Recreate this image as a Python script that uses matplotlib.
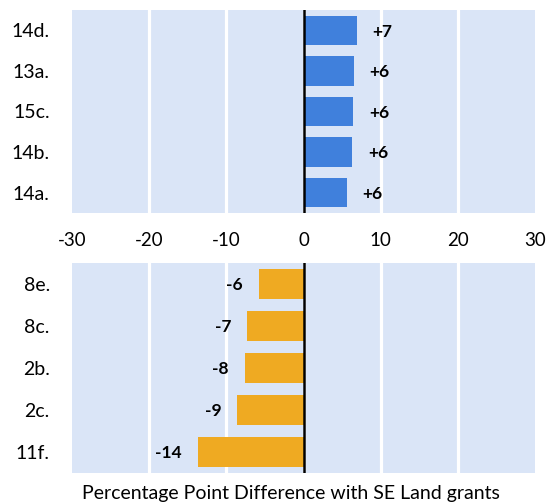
import matplotlib
matplotlib.use('Agg')
import matplotlib.pyplot as plt

plt.rcParams['font.family'] = ['Lato', 'DejaVu Sans']

# positive side (top panel)
pos_labels = ['14d.', '13a.', '15c.', '14b.', '14a.']
pos_values = [6.9, 6.5, 6.4, 6.3, 5.6]
pos_text = ['+7', '+6', '+6', '+6', '+6']

# negative side (bottom panel)
neg_labels = ['8e.', '8c.', '2b.', '2c.', '11f.']
neg_values = [-5.8, -7.3, -7.6, -8.6, -13.7]
neg_text = ['-6', '-7', '-8', '-9', '-14']

xticks = [-30, -20, -10, 0, 10, 20, 30]

bg = '#dae5f7'
blue = '#4080dc'
orange = '#efaa22'

W, H = 559, 503
fig = plt.figure(figsize=(W / 100, H / 100), dpi=100)
ax1 = fig.add_axes([72 / W, 1 - 213 / H, 463 / W, 203 / H])
ax2 = fig.add_axes([72 / W, 1 - 473 / H, 463 / W, 210 / H])


def panel(ax, labels, values, texts, color, show_xticks):
    ax.set_facecolor(bg)
    y = list(range(len(labels)))
    ax.barh(y, values, height=0.72, color=color, zorder=3)
    ax.set_ylim(len(labels) - 0.5, -0.5)
    ax.set_xlim(-30, 30)
    ax.set_yticks(y)
    ax.set_yticklabels(labels, fontsize=14)
    ax.set_xticks(xticks)
    for xv in xticks[1:-1]:
        ax.axvline(xv, color='white', lw=2.3, zorder=1)
    ax.axvline(0, color='black', lw=1.8, zorder=4)
    for s in ax.spines.values():
        s.set_visible(False)
    ax.tick_params(axis='both', length=0)
    ax.tick_params(axis='y', pad=16)
    if show_xticks:
        ax.set_xticklabels([str(t) for t in xticks], fontsize=13.5)
        ax.tick_params(axis='x', pad=14)
    else:
        ax.set_xticklabels([])
    for yi, v, t in zip(y, values, texts):
        if v >= 0:
            ax.annotate(t, (v, yi), xytext=(11.5, -1), textcoords='offset points',
                        ha='left', va='center', fontsize=12.5, fontweight='bold')
        else:
            ax.annotate(t, (v, yi), xytext=(-11.5, -1), textcoords='offset points',
                        ha='right', va='center', fontsize=12.5, fontweight='bold')


panel(ax1, pos_labels, pos_values, pos_text, blue, True)
panel(ax2, neg_labels, neg_values, neg_text, orange, False)

fig.text((83 + 498) / 2 / W, 1 - 493 / H, 'Percentage Point Difference with SE Land grants',
         ha='center', va='center', fontsize=14)

fig.savefig('out.png', dpi=100)
